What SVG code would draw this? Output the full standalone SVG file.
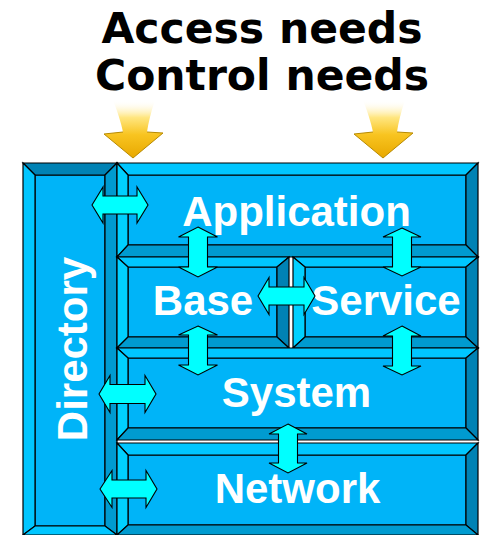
<svg xmlns="http://www.w3.org/2000/svg" width="482" height="535" viewBox="0 0 482 535">
  <style>
    .title { font-family: "DejaVu Sans", sans-serif; font-weight: bold; font-size: 42.5px; fill: #000; text-anchor: middle; }
    .label { font-family: "Liberation Sans", Arial, sans-serif; font-weight: bold; font-size: 42px; fill: #fff; text-anchor: middle; }
    .edge { stroke: #000; stroke-width: 1.2; stroke-linejoin: miter; }
    .face { fill: #00b4f8; }
    .lt { fill: #00c6ff; }
    .ll { fill: #00d0ff; }
    .dk { fill: #0082b4; }
    .md { fill: #009bd0; }
    .dbl { fill: #00ffff; stroke: #000; stroke-width: 1.1; stroke-linejoin: miter; }
    .need { fill: url(#gold); }
  </style>
  <defs>
    <linearGradient id="gold" x1="0" y1="0" x2="0" y2="1">
      <stop offset="0" stop-color="#ffffff" stop-opacity="0"/>
      <stop offset="0.3" stop-color="#ffe680"/>
      <stop offset="0.6" stop-color="#f8c420"/>
      <stop offset="1" stop-color="#e8a800"/>
    </linearGradient>
  </defs>

  <!-- heading -->
  <g id="title">
    <text class="title" x="262" y="43">Access needs</text>
    <text class="title" x="262" y="90">Control needs</text>
  </g>

  <!-- incoming need arrows -->
  <g id="need-arrows">
    <path class="need" d="M113,100 L155,100 Q149,118 147,132 L163,133 L133,158 L104,134 L123,132 Q120,118 113,100 Z"/>
    <path d="M147,132 L163,133 L133,158 L104,134 L123,132" fill="none" stroke="#b88a00" stroke-width="1"/>
    <path class="need" d="M363,100 L405,100 Q399,118 397,132 L413,133 L383,158 L354,134 L373,132 Q370,118 363,100 Z"/>
    <path d="M397,132 L413,133 L383,158 L354,134 L373,132" fill="none" stroke="#b88a00" stroke-width="1"/>
  </g>

  <!-- Directory column -->
  <g id="directory">
    <rect class="face edge" x="35" y="175" width="70" height="351"/>
    <path class="dk edge" d="M23,163 L117,163 L105,175 L35,175 Z"/>
    <path class="lt edge" d="M23,163 L35,175 L35,526 L23,535 Z"/>
    <path class="md edge" d="M117,163 L117,535 L105,526 L105,175 Z"/>
    <path class="lt edge" d="M23,535 L117,535 L105,526 L35,526 Z"/>
    <text class="label" transform="translate(87,349) rotate(-90)" x="0" y="0">Directory</text>
  </g>

  <!-- Application layer -->
  <g id="application">
    <rect class="face edge" x="128" y="175" width="338" height="70"/>
    <path class="lt edge" d="M117,163 L478,163 L466,175 L128,175 Z"/>
    <path class="ll edge" d="M117,163 L128,175 L128,245 L117,257 Z"/>
    <path class="dk edge" d="M478,163 L478,257 L466,245 L466,175 Z"/>
    <path class="md edge" d="M117,257 L478,257 L466,245 L128,245 Z"/>
    <text class="label" x="296.5" y="226">Application</text>
  </g>

  <!-- Base layer -->
  <g id="base">
    <rect class="face edge" x="128" y="267" width="149" height="70"/>
    <path class="lt edge" d="M117,257 L289,257 L277,267 L128,267 Z"/>
    <path class="ll edge" d="M117,257 L128,267 L128,337 L117,348 Z"/>
    <path class="dk edge" d="M289,257 L289,348 L277,337 L277,267 Z"/>
    <path class="md edge" d="M117,348 L289,348 L277,337 L128,337 Z"/>
    <text class="label" x="203" y="315">Base</text>
  </g>

  <!-- Service layer -->
  <g id="service">
    <rect class="face edge" x="305" y="267" width="161" height="70"/>
    <path class="lt edge" d="M293,257 L478,257 L466,267 L305,267 Z"/>
    <path class="ll edge" d="M293,257 L305,267 L305,337 L293,348 Z"/>
    <path class="dk edge" d="M478,257 L478,348 L466,337 L466,267 Z"/>
    <path class="md edge" d="M293,348 L478,348 L466,337 L305,337 Z"/>
    <text class="label" x="386" y="315">Service</text>
  </g>

  <!-- System layer -->
  <g id="system">
    <rect class="face edge" x="128" y="358" width="338" height="70"/>
    <path class="lt edge" d="M117,348 L478,348 L466,358 L128,358 Z"/>
    <path class="ll edge" d="M117,348 L128,358 L128,428 L117,440 Z"/>
    <path class="dk edge" d="M478,348 L478,440 L466,428 L466,358 Z"/>
    <path class="md edge" d="M117,440 L478,440 L466,428 L128,428 Z"/>
    <text class="label" x="296.5" y="407">System</text>
  </g>

  <!-- Network layer -->
  <g id="network">
    <rect class="face edge" x="128" y="455" width="338" height="70"/>
    <path class="lt edge" d="M117,443 L478,443 L466,455 L128,455 Z"/>
    <path class="ll edge" d="M117,443 L128,455 L128,525 L117,535 Z"/>
    <path class="dk edge" d="M478,443 L478,535 L466,525 L466,455 Z"/>
    <path class="md edge" d="M117,535 L478,535 L466,525 L128,525 Z"/>
    <text class="label" x="297.5" y="503">Network</text>
  </g>

  <!-- two-way links between neighbouring blocks -->
  <g id="connectors">
    <!-- Directory <-> Application -->
    <path class="dbl" d="M92,205 L103,187 L103,196 L137,196 L137,187 L148,205 L137,223 L137,214 L103,214 L103,223 Z"/>
    <!-- Directory <-> System -->
    <path class="dbl" d="M99,394 L110,375.5 L110,384.5 L145,384.5 L145,375.5 L156,394 L145,412.5 L145,403.5 L110,403.5 L110,412.5 Z"/>
    <!-- Directory <-> Network -->
    <path class="dbl" d="M100,489 L112,470.5 L112,480 L146,480 L146,470.5 L157,489 L146,507.5 L146,498 L112,498 L112,507.5 Z"/>
    <!-- Base <-> Service -->
    <path class="dbl" d="M258,296 L269,277.5 L269,287 L304,287 L304,277.5 L315,296 L304,314.5 L304,305 L269,305 L269,314.5 Z"/>
    <!-- Application <-> Base -->
    <path class="dbl" d="M198,227 L217.5,237 L207.5,237 L207.5,267 L217.5,267 L198,277 L178.5,267 L188.5,267 L188.5,237 L178.5,237 Z"/>
    <!-- Application <-> Service -->
    <path class="dbl" d="M402,228 L421,237 L411.5,237 L411.5,267 L421,267 L402,276 L383,267 L392.5,267 L392.5,237 L383,237 Z"/>
    <!-- Base <-> System -->
    <path class="dbl" d="M198,326 L217.5,335 L207.5,335 L207.5,365 L217.5,365 L198,375 L178.5,365 L188.5,365 L188.5,335 L178.5,335 Z"/>
    <!-- Service <-> System -->
    <path class="dbl" d="M402,326 L421,336 L411.5,336 L411.5,366 L421,366 L402,375 L383,366 L392.5,366 L392.5,336 L383,336 Z"/>
    <!-- System <-> Network -->
    <path class="dbl" d="M288,424 L307,434 L297.5,434 L297.5,463 L307,463 L288,473 L269,463 L278.5,463 L278.5,434 L269,434 Z"/>
  </g>
</svg>
